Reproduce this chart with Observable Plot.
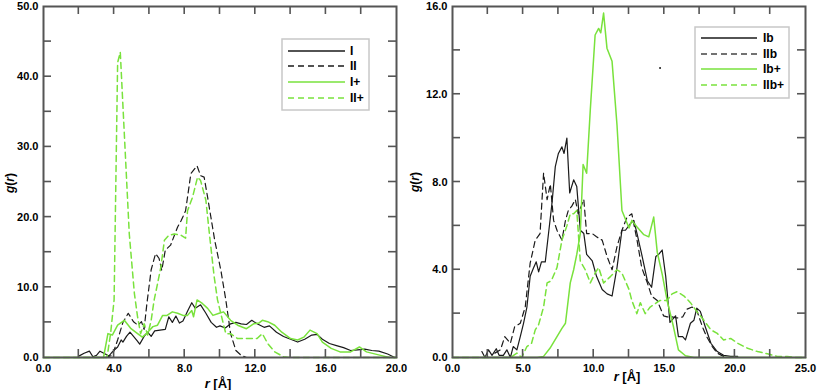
<!DOCTYPE html>
<html><head><meta charset="utf-8">
<script src="https://cdn.jsdelivr.net/npm/d3@7"></script>
<script src="https://cdn.jsdelivr.net/npm/@observablehq/plot@0.6"></script>
<style>
body{margin:0;background:#fff;}
#wrap{display:flex;width:817px;height:390px;background:#fff;}
#wrap svg{overflow:visible;}
</style></head>
<body><div id="wrap"></div>
<script>
// ---------- Left panel data: r [Å], g(r) ----------
const leftNames = ["I", "II", "I+", "II+"];
const leftXTicks = [0, 4, 8, 12, 16, 20];
const leftYTicks = [0, 10, 20, 30, 40, 50];
const leftXMinor = [2, 4, 6, 8, 10, 12, 14, 16, 18];
const leftYMinor = [5, 10, 15, 20, 25, 30, 35, 40, 45];
const seriesI = [[2.0,0.2],[2.3,0.6],[2.6,0.9],[2.8,0.1],[3.0,0.3],[3.2,0.9],[3.5,0.5],[3.7,0.2],[3.9,0.8],[4.2,1.5],[4.4,2.5],[4.5,2.2],[4.7,3.0],[4.9,3.6],[5.1,3.0],[5.3,2.4],[5.45,1.9],[5.7,3.0],[5.9,3.6],[6.1,3.0],[6.3,3.8],[6.6,3.9],[6.9,4.0],[7.1,5.8],[7.3,5.0],[7.5,5.9],[7.7,4.9],[7.9,5.2],[8.2,6.8],[8.4,7.8],[8.6,7.0],[8.9,7.5],[9.2,6.3],[9.5,5.0],[9.8,4.3],[10.0,4.5],[10.3,4.2],[10.6,4.8],[10.9,5.0],[11.2,4.8],[11.5,4.7],[11.8,5.3],[12.1,4.8],[12.5,4.3],[12.8,4.5],[13.2,3.6],[13.6,3.0],[14.0,2.6],[14.4,2.2],[14.8,2.6],[15.2,3.2],[15.5,3.3],[15.8,2.6],[16.2,2.0],[16.6,1.7],[17.0,1.4],[17.4,1.0],[17.8,1.1],[18.2,1.2],[18.6,1.0],[19.0,0.9],[19.5,0.5],[19.9,0.0]];
const seriesII = [[3.5,0],[3.9,0.3],[4.2,2.5],[4.5,5.0],[4.8,6.3],[5.1,5.1],[5.35,4.6],[5.55,5.1],[5.7,4.0],[5.85,7.5],[6.1,12.5],[6.35,14.8],[6.55,14.1],[6.7,12.4],[6.9,15.3],[7.2,16.0],[7.6,18.6],[7.8,19.5],[8.05,20.9],[8.35,26.2],[8.7,27.3],[8.9,25.9],[9.1,25.7],[9.3,22.8],[9.7,16.7],[10.05,12.4],[10.33,8.2],[10.6,3.4],[10.9,1.0],[11.2,0.3],[11.5,0],[12,0]];
const seriesIp = [[0,0],[3.4,0],[3.65,3.4],[3.9,3.2],[4.2,4.6],[4.58,5.3],[4.96,4.1],[5.33,3.4],[5.6,2.9],[5.9,3.6],[6.2,4.4],[6.46,4.6],[6.75,6.0],[7.0,6.0],[7.3,6.5],[7.6,6.3],[7.9,6.0],[8.16,6.0],[8.4,6.7],[8.5,5.8],[8.7,8.2],[9.0,7.7],[9.3,7.0],[9.6,6.0],[9.95,6.3],[10.2,6.5],[10.6,5.3],[11.0,4.6],[11.5,4.1],[11.9,4.8],[12.2,4.9],[12.4,5.3],[12.7,5.1],[13.1,4.6],[13.5,3.6],[14.0,2.7],[14.4,2.5],[14.75,2.9],[15.1,3.9],[15.5,3.4],[15.8,2.2],[16.3,1.3],[16.8,0.8],[17.4,0.8],[17.9,1.5],[18.3,0.8],[19.1,0.3],[19.6,0],[20,0]];
const seriesIIp = [[0,0],[3.6,0],[3.8,3.4],[4.0,8.2],[4.2,42.0],[4.35,43.5],[4.58,31.8],[4.86,17.6],[5.15,9.1],[5.33,5.8],[5.5,3.4],[5.7,4.8],[5.9,3.2],[6.1,5.3],[6.27,8.2],[6.46,10.5],[6.65,12.9],[6.85,16.7],[7.1,17.4],[7.4,17.6],[7.8,17.4],[8.05,17.0],[8.16,20.9],[8.44,22.8],[8.73,25.7],[8.9,25.2],[9.2,22.4],[9.4,17.6],[9.67,11.5],[9.86,8.2],[10.14,5.3],[10.33,3.4],[10.6,3.4],[11.0,2.7],[11.5,2.7],[12.1,2.7],[12.4,3.4],[12.7,2.0],[13.1,0.8],[13.6,0.1],[14,0],[20,0]];

// ---------- Right panel data ----------
const rightNames = ["Ib", "IIb", "Ib+", "IIb+"];
const rightXTicks = [0, 5, 10, 15, 20, 25];
const rightYTicks = [0, 4, 8, 12, 16];
const rightXMinor = [2.5, 5, 7.5, 10, 12.5, 15, 17.5, 20, 22.5];
const rightYMinor = [2, 4, 6, 8, 10, 12, 14];
const seriesIb = [[2.08,0.27],[2.3,0],[2.55,0.35],[2.8,0.1],[3.1,0.4],[3.3,0.1],[3.6,0.1],[3.85,0.35],[4.1,0],[4.3,0.5],[4.56,0.35],[4.8,0.95],[5.03,1.56],[5.27,2.3],[5.5,3.7],[5.75,4.1],[5.93,4.36],[6.1,3.9],[6.3,4.36],[6.57,4.36],[6.8,5.65],[7.04,7.0],[7.28,8.7],[7.5,9.3],[7.75,9.6],[7.9,9.3],[8.1,10.0],[8.3,7.5],[8.58,8.1],[8.8,7.8],[9.05,5.8],[9.3,5.65],[9.5,4.7],[9.9,4.4],[10.2,3.7],[10.6,3.1],[10.95,2.9],[11.3,2.8],[11.65,4.1],[12.0,5.8],[12.25,5.8],[12.6,6.1],[12.84,6.25],[13.07,5.65],[13.4,4.7],[13.8,3.5],[14.1,3.2],[14.4,4.6],[14.6,4.7],[14.85,4.9],[15.1,3.7],[15.4,1.6],[15.8,1.9],[16.0,0.95],[16.3,0.95],[16.5,0.8],[16.85,1.56],[17.1,1.7],[17.3,2.25],[17.55,2.1],[17.9,1.4],[18.3,0.65],[18.75,0.27],[19.2,0.1],[19.7,0.05],[20.2,0.05]];
const seriesIIb = [[3.0,0.2],[3.4,0.35],[3.7,0.95],[4.1,0.65],[4.4,1.4],[4.8,1.56],[5.15,2.3],[5.5,4.3],[5.86,5.35],[6.2,5.65],[6.45,8.4],[6.7,7.2],[6.93,7.9],[7.16,6.25],[7.4,5.8],[7.75,5.35],[8.0,6.25],[8.2,6.7],[8.45,6.9],[8.7,7.2],[8.9,6.55],[9.3,7.2],[9.5,5.65],[9.9,5.65],[10.2,5.5],[10.6,5.35],[10.95,4.6],[11.3,4.0],[11.65,5.05],[12.0,5.8],[12.36,6.4],[12.7,6.55],[13.07,5.35],[13.4,4.1],[13.8,3.4],[14.1,2.8],[14.5,2.6],[14.95,1.9],[15.2,1.85],[15.55,1.85],[15.9,1.8],[16.3,1.85],[16.6,2.2],[16.97,2.3],[17.3,2.15],[17.7,1.4],[18.0,0.95],[18.4,0.5],[18.75,0.2],[19.2,0.05]];
const seriesIbp = [[0,0],[6.0,0],[6.45,0.05],[6.9,0.42],[7.4,0.95],[7.75,1.33],[8.0,1.56],[8.34,3.4],[8.58,4.0],[8.8,4.7],[9.05,5.65],[9.25,8.8],[9.5,8.4],[9.76,11.3],[10.1,14.7],[10.35,15.0],[10.5,14.8],[10.7,15.7],[10.94,14.1],[11.3,13.5],[11.65,10.6],[12.0,6.7],[12.5,5.9],[12.7,6.25],[13.07,5.95],[13.55,5.6],[13.9,5.5],[14.25,6.4],[14.5,4.8],[14.85,3.8],[15.2,2.6],[15.65,1.4],[16.0,0.35],[16.5,0.08],[17.1,0],[25,0]];
const seriesIIbp = [[0,0],[4.1,0],[4.56,0.2],[4.9,0],[5.27,0.5],[5.6,0.65],[5.86,1.26],[6.1,1.5],[6.45,2.3],[6.7,3.4],[7.0,3.5],[7.4,4.1],[7.75,5.35],[8.1,6.0],[8.34,6.55],[8.58,6.55],[8.8,6.7],[9.05,4.4],[9.4,4.0],[9.76,3.4],[10.1,3.85],[10.35,4.1],[10.7,3.4],[11.2,3.7],[11.65,4.0],[12.0,3.85],[12.5,3.1],[12.7,2.6],[13.06,2.0],[13.3,2.5],[13.65,2.0],[14.0,2.3],[14.7,2.6],[15.2,2.6],[15.55,2.9],[15.9,3.0],[16.4,2.8],[16.85,2.5],[17.3,2.1],[17.8,1.7],[18.3,1.26],[18.75,1.1],[19.2,0.8],[19.7,0.87],[20.2,0.65],[20.9,0.42],[21.6,0.27],[22.3,0.17],[23.0,0.05],[23.7,0.05],[24.2,0],[25,0]];
const strayDot = [[14.7, 13.2]];

const BLACK = "#1a1a1a", GREEN = "#79e23c", FRAME = "#555";
const DASH = "6,4";
const FONT = "'Liberation Sans', Arial, sans-serif";
const fmt = d => d.toFixed(1);

function panel({width, mL, mR, xDomain, yDomain, xTicks, yTicks, series, extra = []}) {
  return Plot.plot({
    width, height: 390,
    marginLeft: mL, marginRight: mR, marginTop: 6, marginBottom: 33,
    style: {fontFamily: FONT, fontSize: "11px", fontWeight: "bold", color: "#000", background: "transparent", overflow: "visible"},
    x: {domain: xDomain}, y: {domain: yDomain},
    marks: [
      ...series.map(s => Plot.line(s.data, {x: d => d[0], y: d => d[1], stroke: s.color, strokeWidth: s.color === GREEN ? 1.5 : 1.2, strokeDasharray: s.dash ? DASH : null})),
      ...extra,
      Plot.axisX(xTicks, {anchor: "bottom", tickSize: 0, tickPadding: 7, tickFormat: fmt, label: null}),
      Plot.axisY(yTicks, {anchor: "left", tickSize: 0, tickPadding: 5, tickFormat: fmt, label: null}),
      Plot.frame({stroke: FRAME, strokeWidth: 2})
    ]
  });
}

// inward tick marks on all four sides, positioned through the plot's own scales
function addInwardTicks(svg, {width, mL, mR, xMinor, yMinor}) {
  const xs = svg.scale("x"), ys = svg.scale("y");
  const left = mL, right = width - mR, top = 6, bottom = 390 - 33, L = 8;
  const g = d3.select(svg).append("g").attr("stroke", FRAME).attr("stroke-width", 1.6);
  xMinor.forEach(v => {
    const px = xs.apply(v);
    g.append("line").attr("x1", px).attr("x2", px).attr("y1", bottom).attr("y2", bottom - L);
    g.append("line").attr("x1", px).attr("x2", px).attr("y1", top).attr("y2", top + L);
  });
  yMinor.forEach(v => {
    const py = ys.apply(v);
    g.append("line").attr("x1", left).attr("x2", left + L).attr("y1", py).attr("y2", py);
    g.append("line").attr("x1", right).attr("x2", right - L).attr("y1", py).attr("y2", py);
  });
}

function addLabels(svg, {xLabelX, xLabelY, yLabelX, yLabelY}) {
  const s = d3.select(svg);
  const t = s.append("text").attr("x", xLabelX).attr("y", xLabelY).attr("text-anchor", "middle")
    .attr("font-size", 13).attr("font-weight", "bold").attr("font-family", FONT);
  t.append("tspan").attr("font-style", "italic").text("r");
  t.append("tspan").text(" [Å]");
  const g = s.append("text").attr("transform", `translate(${yLabelX},${yLabelY}) rotate(-90)`).attr("text-anchor", "middle")
    .attr("font-size", 12).attr("font-weight", "bold").attr("font-family", FONT);
  g.append("tspan").attr("font-style", "italic").text("g");
  g.append("tspan").text("(");
  g.append("tspan").attr("font-style", "italic").text("r");
  g.append("tspan").text(")");
}

function addLegend(svg, {x, y, w, h, lineX1, lineX2, textX, rows, names, series}) {
  const g = d3.select(svg).append("g");
  g.append("rect").attr("x", x).attr("y", y).attr("width", w).attr("height", h)
    .attr("fill", "#fff").attr("stroke", "#c8c8c8").attr("stroke-width", 1.5);
  series.forEach((ser, i) => {
    g.append("line").attr("x1", lineX1).attr("x2", lineX2).attr("y1", rows[i]).attr("y2", rows[i])
      .attr("stroke", ser.legendColor || ser.color).attr("stroke-width", ser.color === GREEN ? 1.6 : 1.3)
      .attr("stroke-dasharray", ser.dash ? DASH : null);
    g.append("text").attr("x", textX).attr("y", rows[i]).attr("dy", "0.35em").attr("text-anchor", "start")
      .attr("font-size", 12).attr("font-weight", "bold").attr("font-family", FONT)
      .text(names[i]);
  });
}

const leftSeries = [
  {data: seriesI, color: BLACK, dash: false},
  {data: seriesII, color: BLACK, dash: true},
  {data: seriesIp, color: GREEN, dash: false},
  {data: seriesIIp, color: GREEN, dash: true}
];
const rightSeries = [
  {data: seriesIb, color: BLACK, dash: false},
  {data: seriesIIb, color: BLACK, dash: true, legendColor: "#444"},
  {data: seriesIbp, color: GREEN, dash: false},
  {data: seriesIIbp, color: GREEN, dash: true}
];

// left SVG spans x 0..404, right SVG spans x 404..817
const LW = 404, LML = 43, LMR = 8;
const RW = 413, RML = 48, RMR = 12;

const left = panel({width: LW, mL: LML, mR: LMR, xDomain: [0, 20], yDomain: [0, 50], xTicks: leftXTicks, yTicks: leftYTicks, series: leftSeries});
addInwardTicks(left, {width: LW, mL: LML, mR: LMR, xMinor: leftXMinor, yMinor: leftYMinor});
addLabels(left, {xLabelX: 218, xLabelY: 388, yLabelX: 14, yLabelY: 183});
addLegend(left, {x: 282, y: 39, w: 87, h: 71, lineX1: 288, lineX2: 345, textX: 350, rows: [51, 66, 82, 98], names: leftNames, series: leftSeries});

const right = panel({width: RW, mL: RML, mR: RMR, xDomain: [0, 25], yDomain: [0, 16], xTicks: rightXTicks, yTicks: rightYTicks, series: rightSeries,
  extra: [Plot.dot(strayDot, {x: d => d[0], y: d => d[1], r: 1, fill: BLACK})]});
addInwardTicks(right, {width: RW, mL: RML, mR: RMR, xMinor: rightXMinor, yMinor: rightYMinor});
addLabels(right, {xLabelX: 223, xLabelY: 381, yLabelX: 15, yLabelY: 182});
addLegend(right, {x: 291, y: 27, w: 94, h: 71, lineX1: 297, lineX2: 353, textX: 359, rows: [38, 54, 69, 85], names: rightNames, series: rightSeries});

document.getElementById("wrap").append(left, right);
</script>
</body></html>
